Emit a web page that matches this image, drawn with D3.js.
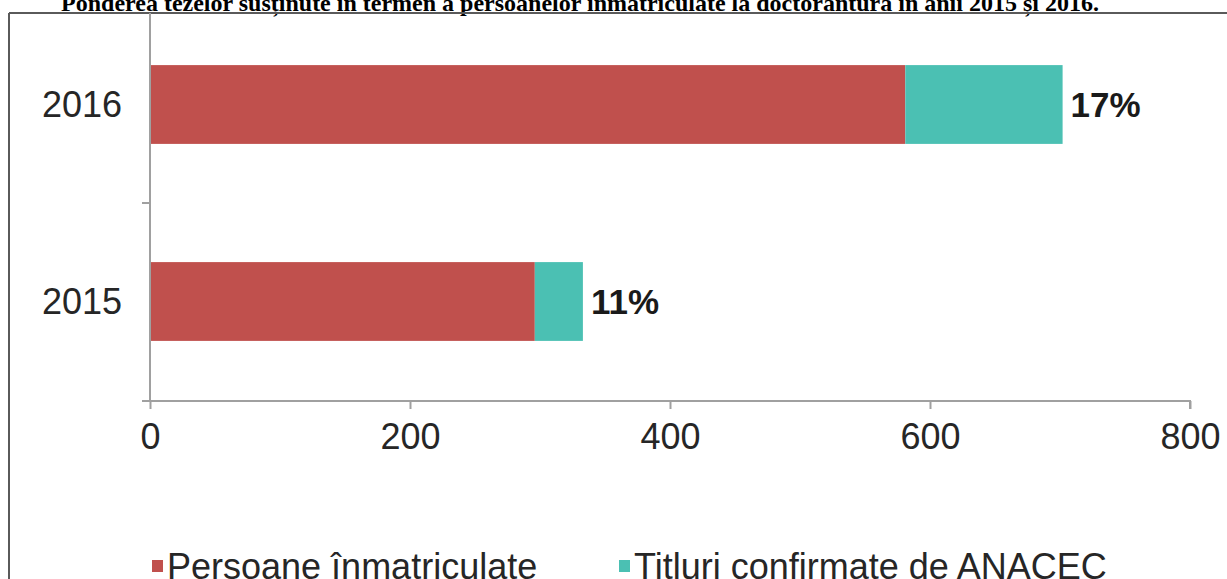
<!DOCTYPE html>
<meta charset="utf-8">
<style>
body { margin: 0; background: #fff; }
svg { display: block; }
.axis path, .axis line { stroke: #a0a0a0; stroke-width: 2px; }
.axis text { font-family: "Liberation Sans", Arial, sans-serif; font-size: 36px; fill: #262626; }
</style>
<svg width="1227" height="579"></svg>
<script src="https://d3js.org/d3.v7.min.js"></script>
<script>

var years = ["2016", "2015"];
var enrolled = [581, 296];
var confirmed = [121, 37];
var shares = ["17%", "11%"];
var xTicks = [0, 200, 400, 600, 800];
var seriesNames = ["Persoane înmatriculate", "Titluri confirmate de ANACEC"];
var colors = ["#c0504d", "#4bc0b3"];
var title = "Ponderea tezelor susținute în termen a persoanelor înmatriculate la doctorantură în anii 2015 și 2016.";

var svg = d3.select("svg");

var x = d3.scaleLinear().domain([0, 800]).range([150, 1190]);
var y = d3.scaleBand().domain(years).range([6, 400]).paddingInner(0.6).paddingOuter(0.3);

// title, cut off at the top like the original
svg.append("text")
    .attr("x", 580)
    .attr("y", 11)
    .attr("text-anchor", "middle")
    .style("font-family", "'Liberation Serif', 'Times New Roman', serif")
    .style("font-weight", "bold")
    .style("font-size", "24px")
    .text(title);

// frame
svg.append("line").attr("x1", 9).attr("x2", 1227).attr("y1", 13).attr("y2", 13)
    .attr("stroke", "#5a5a5a").attr("stroke-width", 2);
svg.append("line").attr("x1", 9).attr("x2", 9).attr("y1", 13).attr("y2", 579)
    .attr("stroke", "#5a5a5a").attr("stroke-width", 2);

var data = years.map(function(d, i) {
  return { year: d, a: enrolled[i], b: confirmed[i], share: shares[i] };
});

// bars
svg.selectAll(".bar-a").data(data).enter().append("rect")
    .attr("class", "bar-a")
    .attr("x", x(0))
    .attr("y", function(d) { return y(d.year); })
    .attr("width", function(d) { return x(d.a) - x(0); })
    .attr("height", y.bandwidth())
    .attr("fill", colors[0]);

svg.selectAll(".bar-b").data(data).enter().append("rect")
    .attr("class", "bar-b")
    .attr("x", function(d) { return x(d.a); })
    .attr("y", function(d) { return y(d.year); })
    .attr("width", function(d) { return x(d.a + d.b) - x(d.a); })
    .attr("height", y.bandwidth())
    .attr("fill", colors[1]);

svg.selectAll(".share").data(data).enter().append("text")
    .attr("class", "share")
    .attr("x", function(d) { return x(d.a + d.b) + 8; })
    .attr("y", function(d) { return y(d.year) + y.bandwidth() / 2; })
    .attr("dy", "0.36em")
    .style("font-family", "'Liberation Sans', Arial, sans-serif")
    .style("font-weight", "bold")
    .style("font-size", "35px")
    .style("fill", "#1a1a1a")
    .text(function(d) { return d.share; });

// x axis
var xAxis = svg.append("g")
    .attr("class", "axis")
    .attr("transform", "translate(0,401)")
    .call(d3.axisBottom(x).tickValues(xTicks).tickSize(8).tickSizeOuter(8).tickPadding(14));
xAxis.select(".domain").attr("d", "M142,0H1190V8");

// y axis: line with ticks between categories, labels centred on bands
var yAxis = svg.append("g").attr("class", "axis");
yAxis.append("line").attr("x1", 150).attr("x2", 150).attr("y1", 13).attr("y2", 401);
yAxis.append("line").attr("x1", 142).attr("x2", 150).attr("y1", 203).attr("y2", 203);
yAxis.selectAll(".ylab").data(years).enter().append("text")
    .attr("class", "ylab")
    .attr("x", 122)
    .attr("y", function(d) { return y(d) + y.bandwidth() / 2; })
    .attr("dy", "0.36em")
    .attr("text-anchor", "end")
    .text(function(d) { return d; });

// legend
var legendX = [152, 619];
var legend = svg.selectAll(".legend").data(seriesNames).enter().append("g")
    .attr("class", "legend")
    .attr("transform", function(d, i) { return "translate(" + legendX[i] + ",566)"; });
legend.append("rect")
    .attr("x", 0).attr("y", -6).attr("width", 11).attr("height", 12)
    .attr("fill", function(d, i) { return colors[i]; });
legend.append("text")
    .attr("x", 15)
    .attr("dy", "0.36em")
    .style("font-family", "'Liberation Sans', Arial, sans-serif")
    .style("font-size", "36px")
    .style("fill", "#262626")
    .text(function(d) { return d; });

</script>
